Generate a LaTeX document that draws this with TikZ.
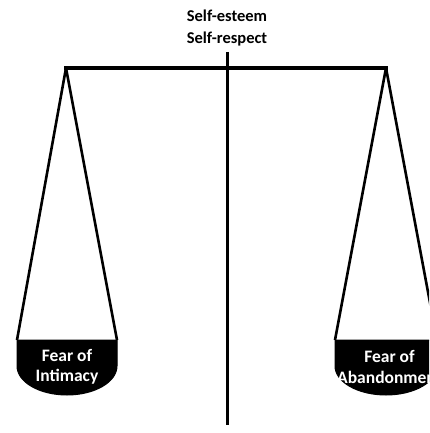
\documentclass[tikz,border=0pt]{standalone}
\usepackage{fontspec}
\setmainfont{Carlito}
\begin{document}
\begin{tikzpicture}[x=1pt,y=-1pt,
  lbl/.style={font=\bfseries\fontsize{16.5}{22}\selectfont, align=center, inner sep=0pt},
  panlbl/.style={lbl, text=white, font=\bfseries\fontsize{17.5}{20.5}\selectfont},
  beam/.style={line width=4pt},
  rope/.style={line width=2.6pt, line join=round},
  pan/.style={fill=black, draw=black, line width=1pt}]
\useasboundingbox (0,0) rectangle (429,433);
\clip (0,0) rectangle (429,433);
\fill[white] (0,0) rectangle (429,433);
% stand
\coordinate (top) at (227,52);
\coordinate (bot) at (227,425);
\draw[line width=3pt] (top) -- (bot);
% beam
\coordinate (bl) at (66,68);
\coordinate (br) at (386,68);
\draw[beam, line cap=rect] (bl) -- (br);
% left pan
\coordinate (l1) at (17,340);
\coordinate (l2) at (117,340);
\draw[rope] (l1) -- (bl) -- (l2);
\draw[pan] (l1) -- (l2) -- (117,366) arc[start angle=0, end angle=180, x radius=50, y radius=29] -- cycle;
% right pan
\coordinate (r1) at (335,340);
\coordinate (r2) at (437,340);
\draw[rope] (r1) -- (br) -- (r2);
\draw[pan] (r1) -- (r2) -- (437,366) arc[start angle=0, end angle=180, x radius=51, y radius=29] -- cycle;
% labels
\node[lbl] (se) at (227,28) {Self-esteem\\Self-respect};
\node[panlbl] (fi) at (67,367) {Fear of\\Intimacy};
\node[panlbl, anchor=west] (fa) at (337,367) {Fear of\\Abandonment};
\end{tikzpicture}
\end{document}
